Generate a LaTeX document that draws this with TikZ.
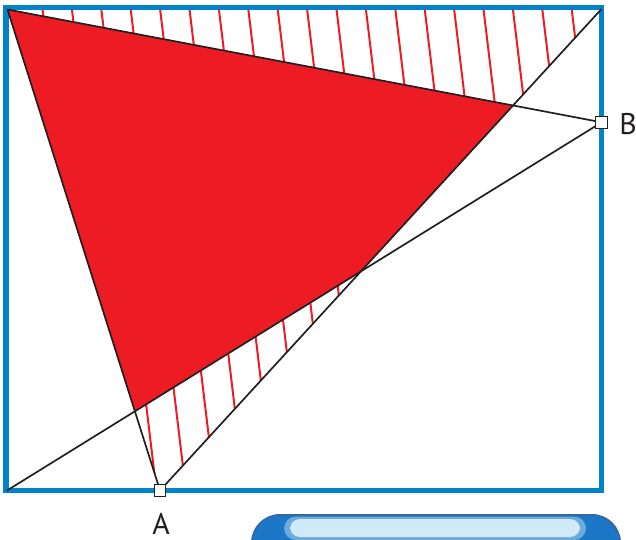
\documentclass[tikz,border=0pt]{standalone}
\usepackage{fontspec}
\setmainfont{PT Sans}
\usetikzlibrary{backgrounds}
\definecolor{frameblue}{RGB}{0,131,201}
\definecolor{fillred}{RGB}{237,28,36}
\definecolor{lineblack}{RGB}{35,31,32}
\definecolor{btnborder}{RGB}{52,104,160}
\definecolor{btnfill}{RGB}{28,120,198}
\definecolor{btnhl}{RGB}{208,234,248}
\tikzset{
  pt/.style={draw=lineblack, line width=1pt, fill=white, rectangle, minimum size=11.5bp, inner sep=0pt},
  lbl/.style={font=\fontsize{30}{30}\selectfont, text=lineblack, inner sep=0pt},
  blk/.style={draw=lineblack, line width=1.7bp},
  hatchline/.style={draw=fillred, line width=2bp},
  frame/.style={draw=frameblue, line width=5.5bp},
}
\begin{document}
\begin{tikzpicture}[x=1bp,y=-1bp]
\useasboundingbox (0,0) rectangle (636,540);
\coordinate (TL) at (7.5,9.5);
\coordinate (TR) at (601.5,9);
\coordinate (BL) at (7,490.5);
\node[pt] (A) at (160,490.5) {};
\node[pt] (B) at (601.7,122.3) {};
\node[lbl] (Alabel) at (161,523.5) {A};
\node[lbl] (Blabel) at (628,124) {B};
\coordinate (P1) at (intersection of TL--B.center and A.center--TR);
\coordinate (P2) at (intersection of A.center--TR and BL--B.center);
\coordinate (P3) at (intersection of BL--B.center and TL--A.center);
\begin{scope}[on background layer]
  \fill[fillred] (TL) -- (P1) -- (P2) -- (P3) -- cycle;
  \begin{scope}
    \clip (TL) -- (TR) -- (P1) -- cycle;
    \foreach \k in {0,...,21} \draw[hatchline] ({41.4+29.4*\k},0) -- ++(60,500);
  \end{scope}
  \begin{scope}
    \clip (P3) -- (P2) -- (A.center) -- cycle;
    \foreach \k in {-4,...,12} \draw[hatchline] ({97.6+29.4*\k},0) -- ++(60,500);
  \end{scope}
  \draw[frame] (6,7.5) rectangle (601.5,490.5);
  \draw[blk] (TL) -- (B.center);
  \draw[blk] (TL) -- (A.center);
  \draw[blk] (BL) -- (B.center);
  \draw[blk] (A.center) -- (TR);
  \begin{scope}
    \clip (0,0) rectangle (636,540);
    \draw[fill=btnfill, draw=btnborder, line width=2bp, rounded corners=28bp] (252,515) rectangle (620,600);
    \fill[btnhl, opacity=0.45, rounded corners=12bp] (284,516.5) rectangle (586,540);
    \fill[btnhl, rounded corners=10bp] (290,519) rectangle (580,537);
  \end{scope}
\end{scope}
\end{tikzpicture}
\end{document}
